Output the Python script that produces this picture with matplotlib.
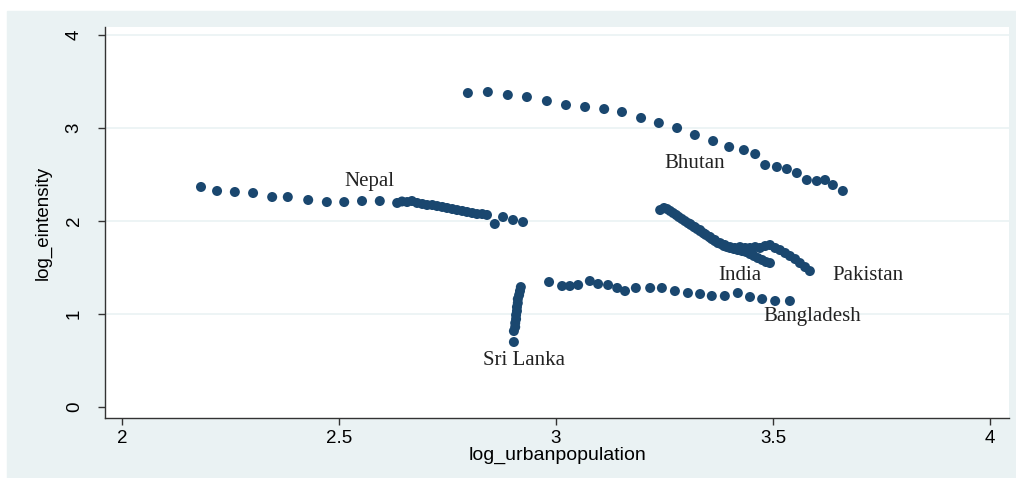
import matplotlib
matplotlib.use("Agg")
import matplotlib.pyplot as plt
from matplotlib.patches import Rectangle

# values (x = log_urbanpopulation, y = log_eintensity)
bhutan_x = [2.797, 2.843, 2.889, 2.933, 2.979, 3.023, 3.067, 3.111, 3.152, 3.196,
            3.237, 3.279, 3.320, 3.362, 3.399, 3.433, 3.459, 3.482, 3.509, 3.532,
            3.555, 3.578, 3.601, 3.620, 3.638, 3.661]
bhutan_y = [3.376, 3.387, 3.355, 3.333, 3.290, 3.247, 3.226, 3.204, 3.172, 3.108,
            3.054, 3.000, 2.925, 2.860, 2.796, 2.763, 2.720, 2.602, 2.581, 2.559,
            2.516, 2.441, 2.430, 2.441, 2.387, 2.323]

nepal_x = [2.182, 2.219, 2.260, 2.302, 2.346, 2.382, 2.429, 2.472, 2.512, 2.553,
           2.594, 2.634, 2.645, 2.657, 2.668, 2.680, 2.692, 2.703, 2.715, 2.726,
           2.738, 2.749, 2.761, 2.772, 2.784, 2.795, 2.807, 2.818, 2.830, 2.841,
           2.859, 2.878, 2.901, 2.924]
nepal_y = [2.366, 2.323, 2.312, 2.301, 2.258, 2.258, 2.226, 2.204, 2.204, 2.215,
           2.215, 2.194, 2.210, 2.204, 2.215, 2.194, 2.183, 2.172, 2.172, 2.161,
           2.151, 2.140, 2.129, 2.118, 2.108, 2.097, 2.086, 2.075, 2.075, 2.065,
           1.968, 2.043, 2.011, 1.989]

india_x = [3.240, 3.249, 3.256, 3.263, 3.270, 3.277, 3.283, 3.290, 3.297, 3.304,
           3.311, 3.318, 3.325, 3.332, 3.339, 3.346, 3.353, 3.359, 3.366, 3.373,
           3.380, 3.387, 3.394, 3.401, 3.410, 3.419, 3.429, 3.438, 3.447, 3.456,
           3.465, 3.475, 3.484, 3.493]
india_y = [2.118, 2.140, 2.129, 2.108, 2.086, 2.065, 2.043, 2.022, 2.000, 1.978,
           1.957, 1.935, 1.914, 1.892, 1.871, 1.849, 1.828, 1.806, 1.785, 1.763,
           1.753, 1.731, 1.720, 1.710, 1.699, 1.688, 1.677, 1.667, 1.645, 1.624,
           1.602, 1.581, 1.559, 1.548]

pakistan_x = [3.309, 3.320, 3.332, 3.343, 3.355, 3.366, 3.378, 3.389, 3.401, 3.412,
              3.424, 3.436, 3.447, 3.459, 3.470, 3.482, 3.493, 3.505, 3.516, 3.528,
              3.539, 3.551, 3.562, 3.574, 3.585]
pakistan_y = [1.968, 1.935, 1.903, 1.860, 1.828, 1.796, 1.763, 1.742, 1.720, 1.710,
              1.720, 1.710, 1.710, 1.720, 1.710, 1.731, 1.742, 1.710, 1.688, 1.656,
              1.624, 1.591, 1.548, 1.505, 1.462]

bangladesh_x = [2.984, 3.014, 3.032, 3.051, 3.078, 3.097, 3.120, 3.141, 3.159, 3.184,
                3.217, 3.244, 3.274, 3.304, 3.332, 3.359, 3.389, 3.419, 3.447, 3.475,
                3.505, 3.539]
bangladesh_y = [1.344, 1.301, 1.301, 1.312, 1.355, 1.323, 1.312, 1.280, 1.247, 1.280,
                1.280, 1.280, 1.247, 1.226, 1.215, 1.194, 1.194, 1.226, 1.183, 1.161,
                1.140, 1.140]

srilanka_x = [2.919, 2.917, 2.915, 2.912, 2.912, 2.910, 2.910, 2.908, 2.908, 2.906,
              2.906, 2.903, 2.903]
srilanka_y = [1.290, 1.247, 1.204, 1.161, 1.118, 1.075, 1.032, 0.989, 0.946, 0.903,
              0.860, 0.817, 0.699]

countries = ["Bhutan", "Nepal", "India", "Pakistan", "Bangladesh", "Sri Lanka"]
label_pos = [(3.32, 2.62), (2.571, 2.43), (3.424, 1.419), (3.719, 1.419),
             (3.590, 0.978), (2.926, 0.505)]

BG = "#eaf2f3"
NAVY = "#1a476f"

fig = plt.figure(figsize=(10.16, 4.78), dpi=100)
fig.patches.append(Rectangle((7 / 1016, 0), 1009 / 1016, 467 / 478,
                             transform=fig.transFigure, color=BG, zorder=-1))
ax = fig.add_axes([105 / 1016, 1 - 418 / 478, 904 / 1016, 391 / 478])
ax.set_facecolor("white")

series = [(bhutan_x, bhutan_y), (nepal_x, nepal_y), (india_x, india_y),
          (pakistan_x, pakistan_y), (bangladesh_x, bangladesh_y),
          (srilanka_x, srilanka_y)]
for xs, ys in series:
    ax.scatter(xs, ys, s=52, color=NAVY, edgecolors="none", zorder=3)

for name, (lx, ly) in zip(countries, label_pos):
    ax.text(lx, ly, name, ha="center", va="center", fontsize=15,
            family="Liberation Serif", color="#222222")

ax.set_xlim(1.9608, 4.0438)
ax.set_ylim(-0.118, 4.086)
ax.set_xticks([2, 2.5, 3, 3.5, 4])
ax.set_xticklabels(["2", "2.5", "3", "3.5", "4"])
ax.set_yticks([0, 1, 2, 3, 4])
for y in [1, 2, 3, 4]:
    ax.axhline(y, color=BG, lw=1.2, zorder=1)

for s in ["top", "right"]:
    ax.spines[s].set_visible(False)
for s in ["left", "bottom"]:
    ax.spines[s].set_color("#333333")
    ax.spines[s].set_linewidth(1.0)

ax.tick_params(axis="both", length=5, width=1, color="#333333",
               labelsize=13.5, labelfontfamily="Liberation Sans")
ax.tick_params(axis="y", pad=11)
plt.setp(ax.get_yticklabels(), rotation=90, va="center")
ax.set_xlabel("log_urbanpopulation", family="Liberation Sans", fontsize=14,
              labelpad=0)
ax.set_ylabel("log_eintensity", family="Liberation Sans", fontsize=13.5,
              labelpad=10)

fig.savefig("out.png", dpi=100)
